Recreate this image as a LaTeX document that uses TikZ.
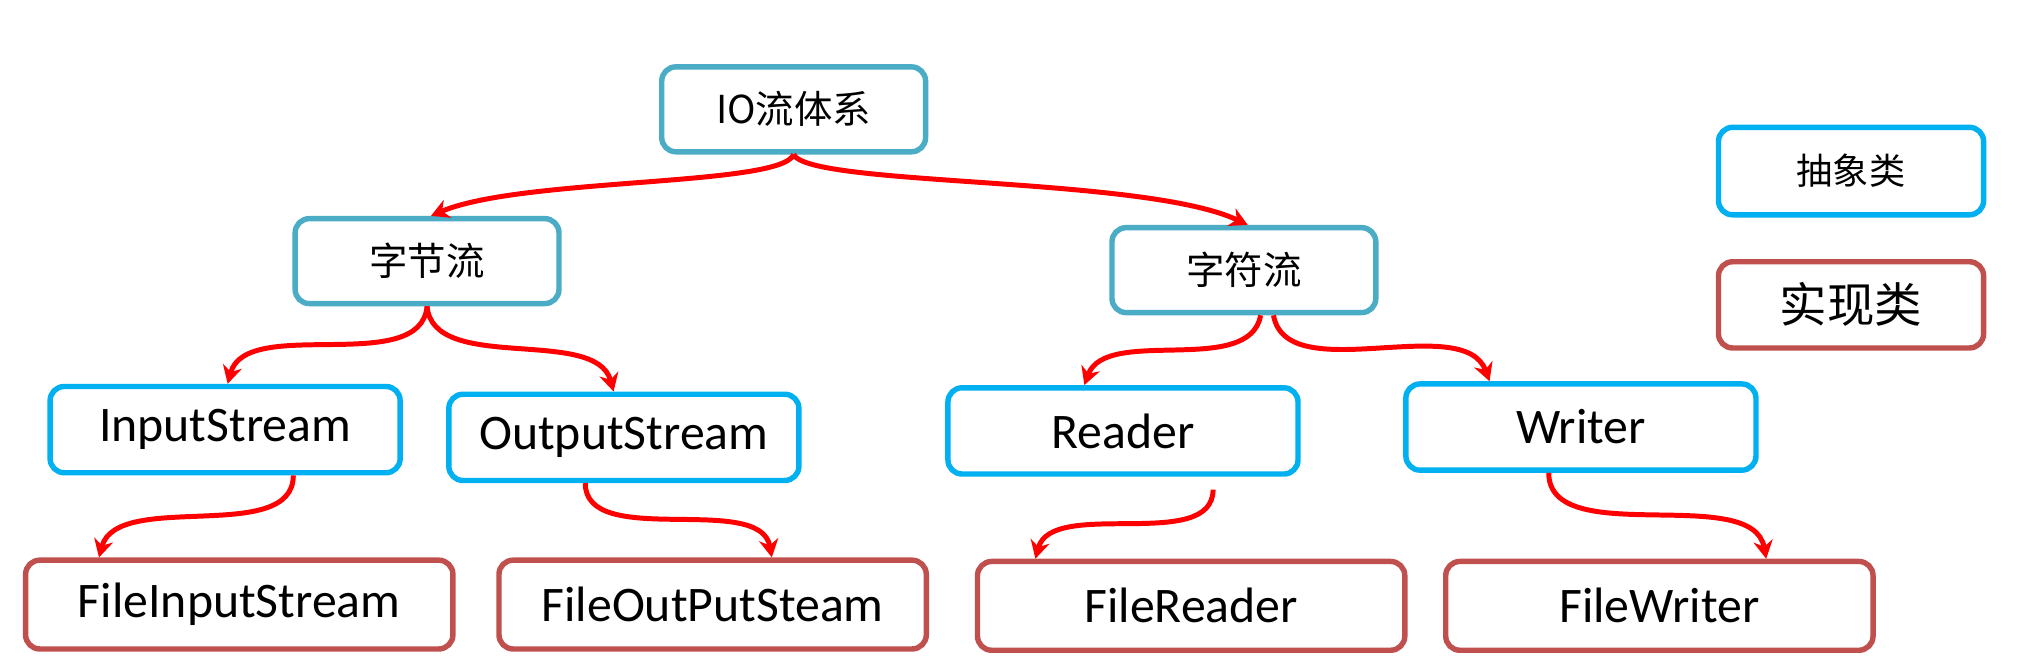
\documentclass[tikz,border=0pt]{standalone}
\usepackage{fontspec}
\setmainfont{Carlito}
\newfontfamily\cjk{Noto Sans CJK SC}
\usetikzlibrary{arrows.meta}

\definecolor{aqua}{HTML}{4BACC6}
\definecolor{sky}{HTML}{00B0F0}
\definecolor{brick}{HTML}{C0504D}

\begin{document}
\begin{tikzpicture}[x=0.01cm, y=-0.01cm]
    \tikzstyle{every node}=[rounded corners=1.1mm, line width=1.2pt, align=center, fill=white]
    \tikzstyle{top}=[draw=aqua, minimum width=2.05cm, minimum height=0.66cm, font=\cjk\fontsize{8.5}{10}\selectfont]
    \tikzstyle{abs}=[draw=sky, minimum width=2.72cm, minimum height=0.67cm, font=\fontsize{11}{13}\selectfont]
    \tikzstyle{impl}=[draw=brick, minimum width=3.32cm, minimum height=0.69cm, font=\fontsize{11}{13}\selectfont]
    \tikzstyle{link}=[draw=red, line width=1.1pt, -{Stealth[length=1.4mm, width=1.5mm]}]
    \useasboundingbox (0,0) rectangle (1568,519);
    % top levels
    \node[top] (IO) at (617,85) {IO流体系};
    \node[top] (BS) at (332,203) {字节流};
    \node[top] (CS) at (967,210) {字符流};
    % abstract classes
    \node[abs] (IS) at (175,334) {InputStream};
    \node[abs] (OS) at (485,340) {OutputStream};
    \node[abs] (RD) at (873,335) {Reader};
    \node[abs] (WR) at (1229,332) {Writer};
    % implementations
    \node[impl] (FIS) at (186,470) {FileInputStream};
    \node[impl] (FOS) at (554,470) {FileOutPutSteam};
    \node[impl] (FR) at (926,471) {FileReader};
    \node[impl] (FW) at (1290,471) {FileWriter};
    % legend
    \node[draw=sky, minimum width=2.06cm, minimum height=0.68cm, font=\cjk\fontsize{8}{10}\selectfont] (ABS) at (1439,133) {抽象类};
    \node[draw=brick, minimum width=2.06cm, minimum height=0.67cm, font=\cjk\fontsize{10.5}{12}\selectfont] (IMP) at (1439,237) {实现类};
    % arrows
    \draw[link] (IO.south) .. controls +(-10,25) and +(70,-30) .. ([xshift=0.03cm]BS.north);
    \draw[link] (IO.south) .. controls +(12,25) and +(-80,-38) .. ([xshift=0.03cm]CS.north);
    \draw[link] (BS.south) to[out=-95, in=75, looseness=0.85] ([xshift=0.02cm]IS.north);
    \draw[link] (BS.south) to[out=-85, in=105, looseness=0.85] ([xshift=-0.08cm]OS.north);
    \draw[link] ([xshift=0.13cm]CS.south) to[out=-100, in=70, looseness=0.85] ([xshift=-0.3cm]RD.north);
    \draw[link] ([xshift=0.23cm]CS.south) to[out=-80, in=110, looseness=0.85] ([xshift=-0.71cm]WR.north);
    \draw[link] ([xshift=0.53cm]IS.south) to[out=-90, in=75, looseness=0.85] ([xshift=-1.09cm]FIS.north);
    \draw[link] ([xshift=-0.3cm]OS.south) to[out=-90, in=100, looseness=0.85] ([xshift=0.46cm]FOS.north);
    \draw[link] ([xshift=0.7cm, yshift=-0.1cm]RD.south) to[out=-90, in=75, looseness=0.85] ([xshift=-1.21cm]FR.north);
    \draw[link] ([xshift=-0.25cm]WR.south) to[out=-90, in=100, looseness=0.85] ([xshift=0.83cm]FW.north);
\end{tikzpicture}
\end{document}
